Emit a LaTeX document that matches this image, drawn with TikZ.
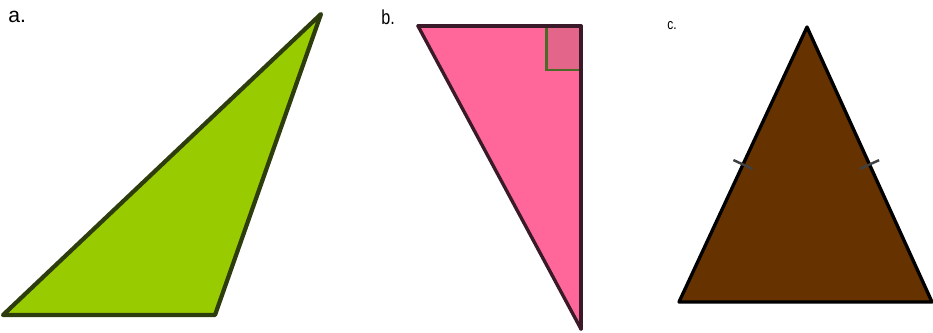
\documentclass[tikz,border=0pt]{standalone}
\usepackage{fontspec}
\setmainfont{Liberation Sans}
\usetikzlibrary{calc}

\definecolor{acutegreen}{HTML}{99CC00}
\definecolor{acuteedge}{HTML}{2E3D0E}
\definecolor{rightpink}{HTML}{FF6699}
\definecolor{rightedge}{HTML}{3A1A28}
\definecolor{cornerpink}{HTML}{E3658A}
\definecolor{cornergreen}{HTML}{4A6A28}
\definecolor{isobrown}{HTML}{663300}

\begin{document}
\begin{tikzpicture}[x=0.02cm,y=-0.02cm,
    tri/.style={line join=round,line cap=round},
    lbl/.style={inner sep=0pt,anchor=west}]
  \useasboundingbox (0,0) rectangle (933,332);
  % a. obtuse triangle
  \coordinate (a1) at (3,315);
  \coordinate (a2) at (215,315);
  \coordinate (a3) at (321,14);
  \filldraw[tri,fill=acutegreen,draw=acuteedge,line width=2.4pt]
    (a1) -- (a2) -- (a3) -- cycle;
  \node[lbl,font=\fontsize{12}{12}\selectfont] (la) at (8,17) {a.};
  % b. right triangle with corner mark
  \coordinate (b1) at (418,26);
  \coordinate (b2) at (581,26);
  \coordinate (b3) at (581,329);
  \filldraw[tri,fill=rightpink,draw=rightedge,line width=1.9pt]
    (b1) -- (b2) -- (b3) -- cycle;
  \fill[cornerpink] (546,27) rectangle (580,70);
  \draw[cornergreen,line width=1.7pt] (546,27) -- (546,70) -- (580,70);
  \draw[tri,rightedge,line width=1.9pt] (b1) -- (b2) -- (b3);
  \node[lbl,font=\fontsize{11.5}{11.5}\selectfont\addfontfeature{FakeStretch=0.8}] (lb) at (381,17) {b.};
  % c. isosceles triangle, equal sides ticked
  \coordinate (c1) at (679,302);
  \coordinate (c2) at (807,27);
  \coordinate (c3) at (932,302);
  \filldraw[tri,fill=isobrown,draw=black,line width=1.9pt]
    (c1) -- (c2) -- (c3) -- cycle;
  \draw[black!75,line width=1.4pt] ($(c1)!0.5!(c2)!6pt!90:(c2)$) -- ($(c1)!0.5!(c2)!6pt!-90:(c2)$);
  \draw[black!75,line width=1.4pt] ($(c3)!0.5!(c2)!6pt!90:(c2)$) -- ($(c3)!0.5!(c2)!6pt!-90:(c2)$);
  \node[lbl,font=\fontsize{8.5}{8.5}\selectfont\addfontfeature{FakeStretch=0.8}] (lc) at (667,26) {c.};
\end{tikzpicture}
\end{document}
